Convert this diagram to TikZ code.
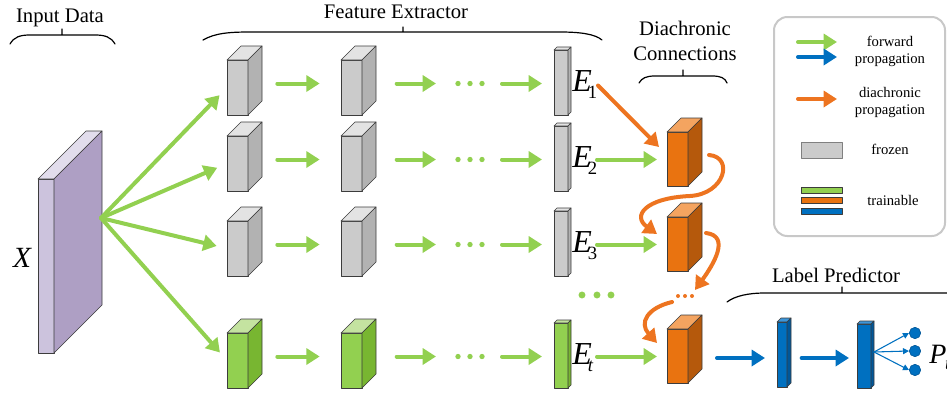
\documentclass[tikz,border=0pt]{standalone}
\usepackage{fontspec}
\setmainfont{Liberation Serif}
\usetikzlibrary{arrows.meta}
\definecolor{fwdgreen}{HTML}{92D050}
\definecolor{predblue}{HTML}{0070C0}
\definecolor{diaorange}{HTML}{ED7420}
\definecolor{cubeedge}{HTML}{3C3C3C}
\definecolor{grayfront}{HTML}{CBCBCB}
\definecolor{grayside}{HTML}{B2B2B2}
\definecolor{graytop}{HTML}{E3E3E3}
\definecolor{greenfront}{HTML}{92D050}
\definecolor{greenside}{HTML}{78B631}
\definecolor{greentop}{HTML}{C4E3A0}
\definecolor{orangefront}{HTML}{E97310}
\definecolor{orangeside}{HTML}{B5590C}
\definecolor{orangetop}{HTML}{F4A460}
\definecolor{bluefront}{HTML}{0070C0}
\definecolor{blueside}{HTML}{00579A}
\definecolor{bluetop}{HTML}{3D96DA}
\definecolor{lilacfront}{HTML}{CCC3DD}
\definecolor{lilacside}{HTML}{AE9FC4}
\definecolor{lilactop}{HTML}{E2DDEC}
\definecolor{legendgray}{HTML}{C8C8C8}

% name, x, y (front top left), width, height, depth, colour prefix
\newcommand{\cuboid}[7]{%
  \node[cube face, fill=#7front, minimum width=#4*0.75pt, minimum height=#5*0.75pt, anchor=north west] (#1) at (#2,#3) {};
  \filldraw[cube edge, fill=#7top] (#1.north west) -- ++(#6,-#6) -- ++(#4,0) -- (#1.north east) -- cycle;
  \filldraw[cube edge, fill=#7side] (#1.north east) -- ++(#6,-#6) -- ++(0,#5) -- (#1.south east) -- cycle;
}

\begin{document}
\begin{tikzpicture}[line cap=round,line join=round,x=0.75pt,y=-0.75pt,
    fwd/.style={draw=fwdgreen,line width=3pt,-{Triangle[length=10pt,width=12pt]}},
    dia/.style={draw=diaorange,line width=3pt,-{Triangle[length=10pt,width=12pt]}},
    pred/.style={draw=predblue,line width=3pt,-{Triangle[length=10pt,width=12pt]}},
    thin pred/.style={draw=predblue,line width=0.8pt,-{Triangle[length=4.5pt,width=4.5pt]}},
    cube face/.style={draw=cubeedge,line width=0.5pt,inner sep=0pt,outer sep=0pt,rectangle},
    cube edge/.style={draw=cubeedge,line width=0.5pt},
    brace line/.style={draw=black,line width=0.9pt},
    heading/.style={font=\fontsize{15.5}{18.75}\selectfont,align=center,anchor=base,inner sep=0pt},
    legend text/.style={font=\fontsize{11}{12.75}\selectfont,align=center,anchor=base,inner sep=0pt},
    legend bar/.style={draw=cubeedge,line width=0.5pt,inner sep=0pt,minimum width=30.75pt,minimum height=4.5pt},
    elabel/.style={anchor=base west,inner sep=0pt},
    outnode/.style={circle,fill=predblue,draw=blueside,line width=0.5pt,inner sep=0pt,minimum size=8.5pt}]
    \useasboundingbox (0,0) rectangle (947,397);
    \clip (0,0) rectangle (947,397);

    % headings and braces
    \node[heading] (inputdata) at (60,22) {Input Data};
    \draw[brace line] (10,44) .. controls (14,37) and (20,35) .. (30,35) -- (95,35) .. controls (105,35) and (111,37) .. (115,44) (62,35) -- (62,29);
    \node[heading] (featext) at (396,18) {Feature Extractor};
    \draw[brace line] (203,40) .. controls (215,33) and (230,32) .. (250,32) -- (560,32) .. controls (580,32) and (595,34) .. (602,40) (403,32) -- (403,27);
    \node[heading] (diachron) at (685,60) {Diachronic\\Connections};
    \draw[brace line] (639,83) .. controls (642,78) and (646,76) .. (655,76) -- (712,76) .. controls (721,76) and (725,78) .. (727,83) (683,76) -- (683,70);
    \node[heading] (labelpred) at (836,282) {Label Predictor};
    \draw[brace line] (727,302) .. controls (735,296) and (748,293) .. (765,293) -- (960,293) (842,293) -- (842,287);

    % input data
    \cuboid{xin}{38}{179}{16}{174}{48}{lilac}
    \coordinate (xout) at ([shift={(47,-48)}]xin.east);
    \node[inner sep=0pt,anchor=base] (xlabel) at (22,267) {\fontsize{22}{22}\selectfont\itshape X};

    % feature extractor rows
    \foreach \r/\y/\c/\s in {1/60/gray/1,2/136/gray/2,3/221/gray/3,4/333/green/\textit{t}}{
      \coordinate (row\r) at (0,\y+23.5);
      \coordinate (dots\r) at (470,\y+23.5);
      \cuboid{a\r}{227}{\y}{21}{55}{14}{\c}
      \cuboid{b\r}{341}{\y}{21}{55}{14}{\c}
      \cuboid{c\r}{554}{\y-10}{14}{65}{3}{\c}
      \draw[fwd,shorten >=8pt] (xout) -- (a\r.west);
      \draw[fwd,shorten <=22pt,shorten >=16pt] (a\r.east |- row\r) -- (b\r.west |- row\r);
      \draw[fwd,shorten <=26pt,shorten >=25.5pt] (b\r.east |- row\r) -- (dots\r);
      \draw[fwd,shorten <=24pt,shorten >=9pt] (dots\r) -- (c\r.west |- row\r);
      \foreach \dx in {-12,0,12}
        \fill[fwdgreen] ([xshift=\dx*0.75pt]dots\r) circle (2pt);
      \node[elabel] (e\r) at (572,\y+31) {\fontsize{24}{24}\selectfont\itshape E\kern-3pt\raisebox{-5.5pt}{\fontsize{14}{14}\selectfont\upshape\s}};
    }
    \foreach \dx in {582,597,611}
      \fill[fwdgreen] (\dx,295) circle (2.6pt);

    % diachronic connections
    \cuboid{o2}{667}{132}{21}{54}{14}{orange}
    \cuboid{o3}{667}{217}{21}{54}{14}{orange}
    \cuboid{o4}{667}{329}{21}{54}{14}{orange}
    \foreach \r in {2,3,4}
      \draw[fwd,shorten <=21.75pt,shorten >=7.5pt] (c\r.east |- row\r) -- (o\r.west |- row\r);
    \draw[dia] ([shift={(30,3)}]c1.east) -- ([shift={(-8,15)}]o2.north west);
    \coordinate (odots) at (685,296);
    \foreach \dx in {-7,0,7}
      \fill[diaorange] ([xshift=\dx*0.75pt]odots) circle (1.5pt);
    \draw[dia] ([shift={(21,-4)}]o2.east) .. controls +(25,2) and +(35,-2) .. (690,196)
      .. controls +(-45,2) and +(-25,-18) .. ([shift={(-10,-10)}]o3.west);
    \draw[dia] ([shift={(18,-11)}]o3.east) .. controls +(25,3) and +(18,-25) .. ([shift={(10,-6)}]odots);
    \draw[dia] ([shift={(-13,6)}]odots) .. controls +(-25,6) and +(-18,-20) .. ([shift={(-10,-13)}]o4.west);

    % label predictor
    \coordinate (predrow) at (0,358);
    \cuboid{l1}{777}{322}{10}{65}{4}{blue}
    \cuboid{l2}{857}{324}{14}{64}{3}{blue}
    \draw[pred,shorten <=21.75pt,shorten >=9pt] (o4.east |- predrow) -- (l1.west |- predrow);
    \draw[pred,shorten <=11pt,shorten >=6pt] (l1.east |- predrow) -- (l2.west |- predrow);
    \foreach \i/\yy in {1/333,2/351,3/370}{
      \node[outnode] (p\i) at (915,\yy) {};
      \draw[thin pred] ([shift={(3,-4)}]l2.east) -- (p\i.west);
    }
    \node[elabel] (ptlabel) at (929,363) {\fontsize{21}{21}\selectfont\itshape P\kern-1pt\raisebox{-5pt}{\fontsize{14}{14}\selectfont t}};

    % legend
    \draw[legendgray,line width=1.5pt,rounded corners=10pt] (774,17) rectangle (945,236);
    \coordinate (lgA1) at (798,42);  \coordinate (lgA2) at (837,42);
    \coordinate (lgB1) at (798,57);  \coordinate (lgB2) at (837,57);
    \coordinate (lgC1) at (798,99);  \coordinate (lgC2) at (837,99);
    \draw[fwd] (lgA1) -- (lgA2);
    \draw[pred] (lgB1) -- (lgB2);
    \draw[dia] (lgC1) -- (lgC2);
    \node[legend text] (lgfwd) at (890,63) {forward\\propagation};
    \node[legend text] (lgdia) at (890,114) {diachronic\\propagation};
    \node[draw=gray,fill=grayfront,line width=0.5pt,inner sep=0pt,minimum width=30.75pt,minimum height=12pt] (lgfrozen) at (821.5,150) {};
    \node[legend text] (lgfrozentext) at (890,154) {frozen};
    \node[legend bar,fill=greenfront] (lgtrain1) at (821.5,190) {};
    \node[legend bar,fill=orangefront] (lgtrain2) at (821.5,200.5) {};
    \node[legend bar,fill=bluefront] (lgtrain3) at (821.5,211) {};
    \node[legend text] (lgtraintext) at (893,205) {trainable};
\end{tikzpicture}
\end{document}
